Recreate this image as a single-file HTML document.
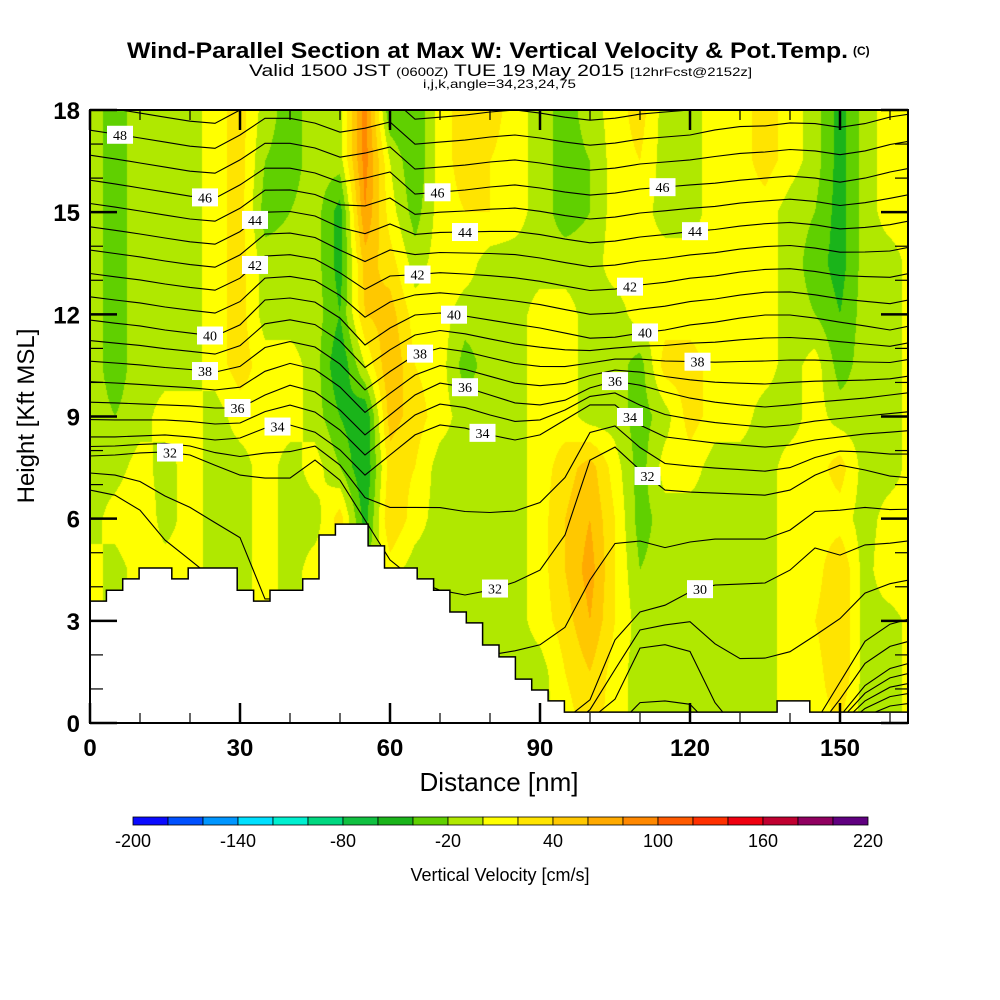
<!DOCTYPE html>
<html><head><meta charset="utf-8"><style>
body{margin:0;background:#fff;width:1000px;height:1000px;overflow:hidden;position:relative;font-family:"Liberation Sans",sans-serif}
#field{position:absolute;left:90px;top:110px}
#ov{position:absolute;left:0;top:0}
</style></head><body>
<canvas id="field" width="818" height="613"></canvas>
<svg id="ov" width="1000" height="1000" xmlns="http://www.w3.org/2000/svg">
<defs><clipPath id="pc"><rect x="90" y="110" width="818" height="613"/></clipPath></defs>
<g id="contours" clip-path="url(#pc)"></g>
<g id="terrain"></g>
<g id="labels"></g>
<g id="axes"></g>
<g id="cbar"></g>
<text x="127" y="58" font-size="22" font-weight="bold" textLength="721" lengthAdjust="spacingAndGlyphs">Wind-Parallel Section at Max W: Vertical Velocity &amp; Pot.Temp.</text>
<text x="853" y="55" font-size="12" font-weight="bold">(C)</text>
<text x="249" y="76" font-size="17" textLength="503" lengthAdjust="spacingAndGlyphs">Valid 1500 JST <tspan font-size="12">(0600Z)</tspan> TUE 19 May 2015 <tspan font-size="12">[12hrFcst@2152z]</tspan></text>
<text x="423" y="88" font-size="12" textLength="153" lengthAdjust="spacingAndGlyphs">i,j,k,angle=34,23,24,75</text>
<text x="499" y="791" font-size="26" text-anchor="middle">Distance [nm]</text>
<text transform="translate(34,416) rotate(-90)" font-size="24" text-anchor="middle">Height [Kft MSL]</text>
<text x="500" y="881" font-size="18" text-anchor="middle">Vertical Velocity [cm/s]</text>
</svg>
<script>
// ---------- data ----------
const xNodes = [0,5,10,15,20,25,30,35,40,45,50,55,60,65,70,75,80,85,90,95,100,105,110,115,120,125,130,135,140,145,150,155,160,165]; // nm
const yNodes = [18,16.5,15,13.5,12,10.5,9,7.5,6,4.5,3,1.5,0]; // kft
const w18  = [-10,-30,-10,-10,-10,10,30,-10,-30,-10,-10,90,-40,-40,10,30,30,10,-10,-30,-10,10,30,-10,-10,10,10,30,10,-10,-50,-10,10,10];
const w165 = [-10,-30,-10,-10,-10,10,30,-20,-30,-10,-10,90,0,-40,10,30,20,10,-10,-30,-20,10,20,-10,-10,10,10,30,10,-10,-50,-10,10,10];
const w15  = [-10,-30,-10,-10,-10,10,30,-30,-20,-10,-50,80,10,-30,10,20,20,10,-10,-30,-20,10,10,-10,-10,10,10,10,-10,-20,-50,-10,10,10];
const w135 = [-10,-30,-10,-10,-10,10,30,-10,-10,-10,-50,50,30,-10,10,10,-10,-10,-10,-10,-10,10,10,10,10,10,10,10,-10,-30,-50,-10,-10,10];
const w12  = [-10,-30,-10,-10,-10,10,30,-10,-10,-10,-40,40,50,10,10,-10,-10,-10,10,10,-10,-10,10,10,10,10,10,10,-10,-20,-40,-10,-10,10];
const w105 = [-10,-30,-10,-10,-10,10,30,10,10,-10,-60,0,60,20,10,-30,-10,-10,10,10,-10,-10,-30,30,30,10,10,10,-10,10,-30,-10,-10,10];
const w9   = [-10,-20,-10,10,10,-10,10,10,10,-10,-40,-60,50,30,10,-10,-10,-10,10,10,-10,-10,-30,-10,30,10,10,-10,-10,10,-10,-10,-10,10];
const w75  = [-10,-10,10,-10,10,-10,-10,10,-10,10,-20,-60,30,20,-10,-10,-10,-10,10,30,50,10,-30,10,10,-10,-10,-10,10,10,30,-10,-10,10];
const w6   = [-10,10,20,-10,10,-10,-10,10,-10,-10,30,-50,40,10,-10,-10,-10,-10,10,40,60,20,-30,-10,-10,-10,-10,-10,10,10,10,-10,10,10];
const w45  = [10,-10,10,10,10,-10,-10,10,-10,10,10,-20,10,-10,-10,-10,-10,-10,10,40,70,20,-20,-10,-10,-10,-10,-10,10,10,40,-10,20,20];
const w3   = [10,-10,10,10,10,-10,-10,10,-10,10,10,-10,10,-10,-10,-10,-10,-10,10,30,60,20,-10,-10,-10,-10,-10,-10,10,20,40,-10,-10,10];
const w15b = [10,-10,10,10,10,-10,-10,10,-10,10,10,-10,10,-10,-10,-10,-10,-10,-10,20,40,10,-10,-10,-10,-10,-10,-10,10,10,40,-10,-10,10];
const w0   = [10,-10,10,10,10,-10,-10,10,-10,10,10,-10,10,-10,-10,-10,-10,-10,-10,10,30,10,-10,-10,-10,-10,-10,-10,10,10,20,-10,-10,10];
const wRows = [w18,w165,w15,w135,w12,w105,w9,w75,w6,w45,w3,w15b,w0];

// potential temperature reference lines (K) : height (kft) at xNodes
const thetaRefLevels = [22,26,28,30,32,34,36,40,46,49];
const th22 = [-2,-2,-2,-2,-2,-2,-2,-2,-2,-2,-2,-2,-2,-2,-2,-2,-2,-2,-2,-2,-2,-2,-2,-2,-2,-2,-2,-2,-2,-2,-0.3,0.2,0.5,0.6];
const th26 = [-1,-1,-1,-1,-1,-1,-1,-1,-1,-1,-1,-1,-1,-1,-1,-1,-1,-1,-1,-1,-1,-1,-1,-1,-1,-1,-1,-1,-1,-0.5,0.2,1.1,1.6,1.8];
const th28 = [-0.5,-0.5,-0.5,-0.5,-0.5,-0.5,-0.5,-0.5,-0.5,-0.5,-0.5,-0.5,-0.5,-0.5,-0.5,-0.5,-0.5,-0.5,-0.5,-0.5,0.1,0.7,2.2,2.3,2.1,0.6,-0.3,-0.3,-0.3,0.0,1.2,2.4,2.9,3.1];
const th30 = [6.84,6.69,6.25,5.37,4.79,4.20,3.61,0.1,0.1,0.1,0.1,0.1,0.1,0.1,0.1,0.1,0.1,0.1,0.1,0.1,0.68,2.44,3.26,3.46,3.85,4.05,4.08,4.11,4.49,5.14,4.93,5.23,5.28,5.37];
const th32 = [7.84,7.87,7.93,7.96,7.87,7.57,7.28,7.19,7.19,7.72,7.13,5.96,4.79,4.20,3.90,3.76,3.90,4.14,4.49,5.52,7.72,8.10,7.43,6.84,6.78,6.75,6.72,6.69,6.84,7.28,7.57,7.43,7.25,7.19];
const th34 = [8.40,8.40,8.43,8.46,8.40,8.31,8.37,8.66,8.75,8.54,8.02,7.28,7.87,8.46,8.75,8.66,8.46,8.31,8.46,8.90,9.34,9.34,8.75,8.40,8.31,8.22,8.16,8.10,8.16,8.31,8.40,8.49,8.54,8.60];
const th36 = [9.42,9.40,9.37,9.34,9.31,9.25,9.25,9.63,9.92,9.72,9.19,8.46,9.04,9.63,9.98,9.86,9.63,9.40,9.34,9.48,9.84,10.04,9.92,9.72,9.54,9.42,9.34,9.28,9.34,9.42,9.48,9.54,9.63,9.72];
const th40 = [11.83,11.74,11.66,11.54,11.45,11.36,11.69,12.42,12.48,12.36,11.89,11.10,11.60,11.98,12.04,11.95,11.83,11.71,11.60,11.45,11.30,11.33,11.45,11.54,11.69,11.77,11.89,11.98,11.98,11.89,11.77,11.66,11.54,11.69];
const th46 = [15.94,15.83,15.71,15.59,15.47,15.41,15.80,16.29,16.29,16.15,15.88,16.00,16.18,15.53,15.59,15.65,15.74,15.80,15.71,15.59,15.50,15.56,15.68,15.74,15.80,15.85,15.94,16.00,16.06,16.00,15.88,16.00,16.18,16.32];
const th49 = [18.14,18.03,17.91,17.79,17.67,17.61,18.0,18.49,18.49,18.35,18.08,18.2,18.38,17.73,17.79,17.85,17.94,18.0,17.91,17.79,17.70,17.76,17.88,17.94,18.0,18.2,18.3,18.3,18.4,18.4,18.3,18.4,18.6,18.7];
const thetaRefs = [th22,th26,th28,th30,th32,th34,th36,th40,th46,th49];
const thetaMin = 22, thetaMax = 49;
const labelLevels = [48,46,44,42,40,38,36,34,32,46,44,42,40,38,36,34,32,46,44,42,40,38,36,34,32,30];
const labelDist   = [6,23,33,33,24,23,29.5,37.5,16,69.5,75,65.5,72.8,66,75,78.5,81,114.5,121,108,111,121.5,105,108,111.5,122];

// terrain heights (kft) per step of 3.272 nm
const terrain = [3.58,3.90,4.23,4.55,4.55,4.23,4.55,4.55,4.55,3.90,3.58,3.90,3.90,4.23,5.52,5.84,5.84,5.20,4.55,4.55,4.23,3.90,3.26,2.94,2.29,1.94,1.29,0.97,0.65,
 0.32,0.32,0.32,0.32,0.32,0.32,0.32,0.32,0.32,0.32,0.32,0.32,0.32,0.65,0.65,0.32,0.32,0.32,0.32,0.32,0.32];
const terrainStep = 3.272;

// colorbar
const cbLevels = [-200,-180,-160,-140,-120,-100,-80,-60,-40,-20,0,20,40,60,80,100,120,140,160,180,200,220];
const cbColors = ["#0a0aff","#0050ff","#0096ff","#00e0ff","#00f0d0","#00d880","#10c040","#1ab41a","#60d000","#b0e800","#ffff00","#ffe400","#ffc800","#ffaa00","#ff8800","#ff5a00","#ff3000","#f00010","#c00030","#900060","#600080"];
const cbTickLabels = [-200,-140,-80,-20,40,100,160,220];
const xTicks = [0,30,60,90,120,150];
const yTicks = [0,3,6,9,12,15,18];

// ---------- scales ----------
const X0=90, Y0=723, PXNM=5, PXK=613/18, XMAX=163.6;
const sx = d => X0 + d*PXNM;
const sy = h => Y0 - h*PXK;
const NS="http://www.w3.org/2000/svg";
function mk(tag, attrs, parent){const e=document.createElementNS(NS,tag);for(const k in attrs)e.setAttribute(k,attrs[k]);parent.appendChild(e);return e;}
function hexRgb(h){return [parseInt(h.substr(1,2),16),parseInt(h.substr(3,2),16),parseInt(h.substr(5,2),16)];}

// ---------- field ----------
(function(){
  const cv=document.getElementById('field'),ctx=cv.getContext('2d');
  const W=cv.width,H=cv.height,img=ctx.createImageData(W,H);
  const rgb=cbColors.map(hexRgb);
  const dx=xNodes[1]-xNodes[0];
  for(let py=0;py<H;py++){
    const h=18-(py+0.5)/PXK;
    let r=0;while(r<yNodes.length-2&&yNodes[r+1]>h)r++;
    const ty=(yNodes[r]-h)/(yNodes[r]-yNodes[r+1]);
    const A=wRows[r],B=wRows[r+1];
    for(let px=0;px<W;px++){
      const d=(px+0.5)/PXNM;
      let c=Math.min(xNodes.length-2,Math.floor(d/dx));
      const tx=(d-xNodes[c])/dx;
      const v=(A[c]*(1-tx)+A[c+1]*tx)*(1-ty)+(B[c]*(1-tx)+B[c+1]*tx)*ty;
      let i=Math.floor((v-cbLevels[0])/20);i=Math.max(0,Math.min(20,i));
      const k=(py*W+px)*4;img.data[k]=rgb[i][0];img.data[k+1]=rgb[i][1];img.data[k+2]=rgb[i][2];img.data[k+3]=255;
    }
  }
  ctx.putImageData(img,0,0);
})();

// ---------- theta contours ----------
function thetaHeight(level, j){
  let k=0;while(k<thetaRefLevels.length-2&&thetaRefLevels[k+1]<level)k++;
  const t=(level-thetaRefLevels[k])/(thetaRefLevels[k+1]-thetaRefLevels[k]);
  return thetaRefs[k][j]*(1-t)+thetaRefs[k+1][j]*t;
}
function thetaAt(level, d){
  const dx=xNodes[1]-xNodes[0];
  let c=Math.min(xNodes.length-2,Math.floor(d/dx));const t=(d-xNodes[c])/dx;
  return thetaHeight(level,c)*(1-t)+thetaHeight(level,c+1)*t;
}
const cg=document.getElementById('contours');
for(let lv=thetaMin;lv<=thetaMax;lv++){
  const pts=xNodes.map((d,j)=>sx(d).toFixed(1)+","+sy(thetaHeight(lv,j)).toFixed(1)).join(" ");
  const pl=mk('polyline',{points:pts,fill:'none',stroke:'#000','stroke-width':1.1},cg);
  
  
}

// ---------- terrain ----------
(function(){
  const tg=document.getElementById('terrain');
  let d="M"+sx(0)+","+Y0;
  terrain.forEach((h,i)=>{const xa=sx(i*terrainStep),xb=sx(Math.min(XMAX,(i+1)*terrainStep));d+=" L"+xa.toFixed(1)+","+sy(h).toFixed(1)+" L"+xb.toFixed(1)+","+sy(h).toFixed(1);});
  d+=" L"+sx(XMAX)+","+Y0+" Z";
  const p=mk('path',{d:d,fill:'#fff',stroke:'none'},tg);
  
  
  let d2="";
  terrain.forEach((h,i)=>{const xa=sx(i*terrainStep),xb=sx(Math.min(XMAX,(i+1)*terrainStep));d2+=(i?" L":"M")+xa.toFixed(1)+","+sy(h).toFixed(1)+" L"+xb.toFixed(1)+","+sy(h).toFixed(1);});
  const o=mk('path',{d:d2,fill:'none',stroke:'#000','stroke-width':1.5},tg);
  
  
})();

// ---------- labels ----------
(function(){
  const lg=document.getElementById('labels');
  labelLevels.forEach((lv,i)=>{
    const x=sx(labelDist[i]),y=sy(thetaAt(lv,labelDist[i]));
    const g=mk('g',{},lg);
    
    
    mk('rect',{x:x-13,y:y-9,width:26,height:18,fill:'#fff'},g);
    const t=mk('text',{x:x,y:y+5,'font-size':14,'font-family':'Liberation Serif, serif','text-anchor':'middle'},g);
    t.textContent=lv;
  });
})();

// ---------- axes ----------
(function(){
  const ag=document.getElementById('axes');
  const fr=mk('rect',{x:X0,y:110,width:818,height:613,fill:'none',stroke:'#000','stroke-width':2},ag);
  
  
  for(let d=0;d<=160;d+=10){
    const maj=d%30===0,L=maj?20:10,x=sx(d);
    mk('line',{x1:x,y1:Y0,x2:x,y2:Y0-L,stroke:'#000','stroke-width':maj?2.5:1.2},ag);
    mk('line',{x1:x,y1:110,x2:x,y2:110+L,stroke:'#000','stroke-width':maj?2.5:1.2},ag);
  }
  for(let h=0;h<=18;h++){
    const maj=h%3===0,L=maj?27:13,y=sy(h);
    mk('line',{x1:X0,y1:y,x2:X0+L,y2:y,stroke:'#000','stroke-width':maj?2.5:1.2},ag);
    mk('line',{x1:908,y1:y,x2:908-L,y2:y,stroke:'#000','stroke-width':maj?2.5:1.2},ag);
  }
  xTicks.forEach(v=>{
    const t=mk('text',{x:sx(v),y:756,'font-size':24,'font-weight':'bold','text-anchor':'middle'},ag);
    
    
    t.textContent=v;
  });
  yTicks.forEach(v=>{
    const t=mk('text',{x:80,y:sy(v)+9,'font-size':24,'font-weight':'bold','text-anchor':'end'},ag);
    
    
    t.textContent=v;
  });
})();

// ---------- colorbar ----------
(function(){
  const g=document.getElementById('cbar');
  const cx0=133,cx1=868,cy=817,ch=8;
  const cs=v=>cx0+(v-cbLevels[0])/(cbLevels[cbLevels.length-1]-cbLevels[0])*(cx1-cx0);
  cbColors.forEach((c,i)=>{
    const r=mk('rect',{x:cs(cbLevels[i]),y:cy,width:cs(cbLevels[i+1])-cs(cbLevels[i]),height:ch,fill:c,stroke:'#000','stroke-width':0.8},g);
    
    
  });
  cbTickLabels.forEach(v=>{
    const t=mk('text',{x:cs(v),y:847,'font-size':18,'text-anchor':'middle'},g);
    
    
    t.textContent=v;
  });
})();
</script>
</body></html>
